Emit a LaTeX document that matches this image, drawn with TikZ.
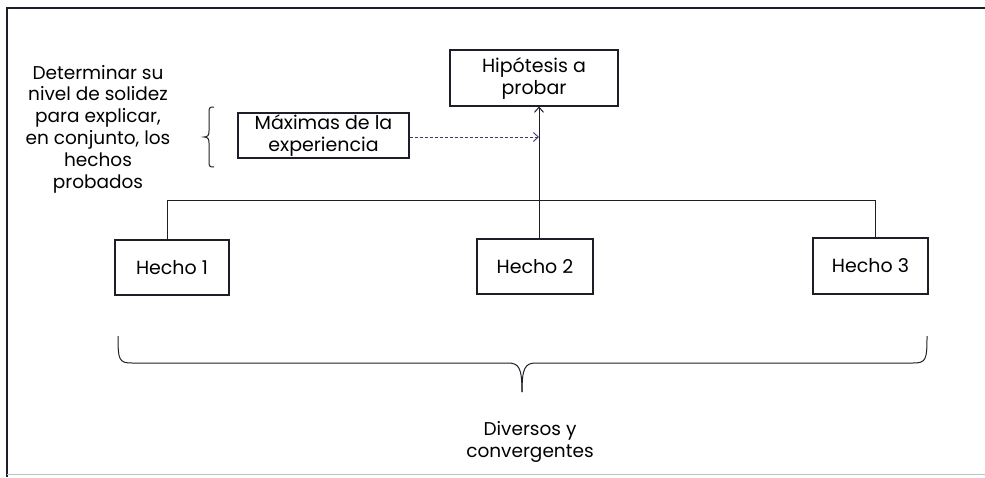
\documentclass[tikz,border=0pt]{standalone}
\usepackage{fontspec}
\setmainfont{Poppins}
\usetikzlibrary{arrows.meta}
\definecolor{ink}{RGB}{30,30,40}
\definecolor{scan}{RGB}{60,60,110}
\tikzset{
  box/.style={draw=ink, line width=1.1pt, inner sep=0pt, align=center, font=\fontsize{19}{22}\selectfont},
  lbl/.style={align=center, inner sep=0pt, font=\fontsize{18.5}{21.8}\selectfont},
  link/.style={draw=ink, line width=1pt},
  tip/.style={-{Straight Barb[length=5pt,width=9pt]}},
}
\begin{document}
\begin{tikzpicture}[x=1pt,y=-1pt]
\useasboundingbox (0,0) rectangle (985,477);
% frame
\draw[ink, line width=1.2pt] (7,477) -- (7,8) -- (985,8);
\draw[black!25, line width=1pt] (7,474) -- (985,474);

% nodes
\node[box, minimum width=168pt, minimum height=56pt] (hip) at (534,78) {Hipótesis a\\probar};
\node[box, minimum width=171pt, minimum height=45pt] (max) at (323.5,135.5) {Máximas de la\\experiencia};
\node[box, minimum width=114pt, minimum height=55pt] (h1) at (172,267.5) {Hecho 1};
\node[box, minimum width=116pt, minimum height=55pt] (h2) at (535,266.5) {Hecho 2};
\node[box, minimum width=115pt, minimum height=56pt] (h3) at (870.5,266) {Hecho 3};
\node[lbl] (det) at (98,129) {Determinar su\\nivel de solidez\\para explicar,\\en conjunto, los\\hechos\\probados};
\node[lbl] (div) at (530,442) {Diversos y\\convergentes};

% connectors
\coordinate (j) at (539,200);
\coordinate (j1) at (167,200);
\coordinate (j3) at (875,200);
\coordinate (m) at (539,137);
\draw[link, tip] (h2.north -| j) -- (hip.south -| j);
\draw[link] (j1) -- (j3);
\draw[link] (j1) -- (h1.north -| j1);
\draw[link] (j3) -- (h3.north -| j3);
\draw[draw=scan, line width=0.9pt, densely dashed, tip] (max.east |- m) -- (m);

% small brace
\coordinate (sbt) at (214,107);
\coordinate (sbm) at (204,137);
\coordinate (sbb) at (214,167);
\draw[link] (sbt) .. controls (209,107) and (209,108) .. (209,113) -- (209,131)
  .. controls (209,135) and (208,137) .. (sbm)
  .. controls (208,137) and (209,139) .. (209,143) -- (209,161)
  .. controls (209,166) and (209,167) .. (sbb);

% big brace
\coordinate (bl) at (118,336);
\coordinate (br) at (927,336);
\coordinate (bt) at (522,392);
\draw[link] (bl) .. controls (118,360) and (119,363) .. (132,363) -- (508,363)
  .. controls (519,363) and (522,368) .. (bt);
\draw[link] (br) .. controls (927,360) and (926,363) .. (913,363) -- (536,363)
  .. controls (525,363) and (522,368) .. (bt);
\end{tikzpicture}
\end{document}
